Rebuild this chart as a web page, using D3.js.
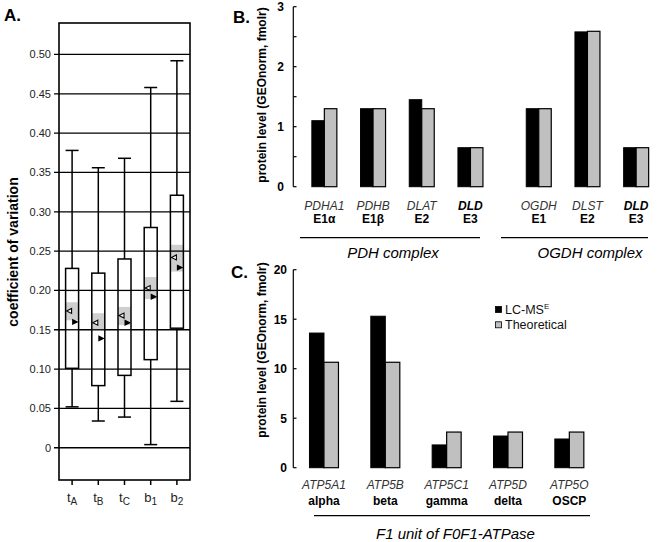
<!DOCTYPE html>
<html><head><meta charset="utf-8">
<script src="https://cdn.jsdelivr.net/npm/d3@7"></script>
<style>
body{margin:0;background:#fff;}
svg{font-family:"Liberation Sans",Arial,sans-serif;}
</style></head>
<body>
<svg id="c" width="661" height="542"></svg>
<script>
// ---- Panel A data ----
const aGroups = ["tA","tB","tC","b1","b2"];
const aLabelMain = ["t","t","t","b","b"];
const aLabelSub = ["A","B","C","1","2"];
const aWhiskerLow = [0.052,0.034,0.039,0.004,0.059];
const aQ1 = [0.101,0.079,0.092,0.112,0.152];
const aQ3 = [0.228,0.222,0.240,0.280,0.321];
const aWhiskerHigh = [0.378,0.356,0.368,0.458,0.492];
const aBandLow = [0.162,0.149,0.156,0.189,0.224];
const aBandHigh = [0.185,0.171,0.179,0.217,0.258];
const aOpen = [0.174,0.159,0.168,0.203,0.242];
const aFilled = [0.160,0.139,0.159,0.192,0.229];
const aTicks = [0,0.05,0.10,0.15,0.20,0.25,0.30,0.35,0.40,0.45,0.50];
const aTickLabels = ["0","0.05","0.10","0.15","0.20","0.25","0.30","0.35","0.40","0.45","0.50"];

// ---- Panel B data ----
const pdhGenes = ["PDHA1","PDHB","DLAT","DLD"];
const pdhSub = ["E1\u03b1","E1\u03b2","E2","E3"];
const pdhLC = [1.10,1.30,1.45,0.65];
const pdhTh = [1.30,1.30,1.30,0.65];
const ogdhGenes = ["OGDH","DLST","DLD"];
const ogdhSub = ["E1","E2","E3"];
const ogdhLC = [1.30,2.58,0.65];
const ogdhTh = [1.30,2.59,0.65];
const bTicks = [0,1,2,3];
const bMinor = [0.5,1.5,2.5];

// ---- Panel C data ----
const cGenes = ["ATP5A1","ATP5B","ATP5C1","ATP5D","ATP5O"];
const cSub = ["alpha","beta","gamma","delta","OSCP"];
const cLC = [13.6,15.3,2.3,3.2,2.9];
const cTh = [10.65,10.65,3.6,3.6,3.6];
const cTicks = [0,5,10,15,20];

const GREY = "#c0c0c0";
const svg = d3.select("#c");

// ================= Panel A =================
const ay = d3.scaleLinear().domain([-0.041,0.54]).range([480,23]);
const ax = d3.scaleBand().domain(aGroups).range([59,190]);
const A = svg.append("g");
// gridlines + ticks
A.selectAll(".grid").data(aTicks).join("line")
  .attr("x1",54).attr("x2",190)
  .attr("y1",d=>ay(d)).attr("y2",d=>ay(d))
  .attr("stroke","#000").attr("stroke-width",1.3);
A.selectAll(".tl").data(aTicks).join("text")
  .attr("x",51).attr("y",d=>ay(d)+4)
  .attr("text-anchor","end").attr("font-size",11).attr("fill","#222")
  .text((d,i)=>aTickLabels[i]);
// frame
A.append("rect").attr("x",59).attr("y",23).attr("width",131).attr("height",457)
  .attr("fill","none").attr("stroke","#000").attr("stroke-width",1.6);
// boxes
const bw = 13;
aGroups.forEach((g,i)=>{
  const cx = ax(g)+ax.bandwidth()/2;
  // whiskers
  A.append("line").attr("x1",cx).attr("x2",cx).attr("y1",ay(aWhiskerHigh[i])).attr("y2",ay(aQ3[i])).attr("stroke","#000").attr("stroke-width",1.5);
  A.append("line").attr("x1",cx).attr("x2",cx).attr("y1",ay(aQ1[i])).attr("y2",ay(aWhiskerLow[i])).attr("stroke","#000").attr("stroke-width",1.5);
  A.append("line").attr("x1",cx-bw/2).attr("x2",cx+bw/2).attr("y1",ay(aWhiskerHigh[i])).attr("y2",ay(aWhiskerHigh[i])).attr("stroke","#000").attr("stroke-width",1.5);
  A.append("line").attr("x1",cx-bw/2).attr("x2",cx+bw/2).attr("y1",ay(aWhiskerLow[i])).attr("y2",ay(aWhiskerLow[i])).attr("stroke","#000").attr("stroke-width",1.5);
  // box
  A.append("rect").attr("x",cx-bw/2).attr("y",ay(aQ3[i])).attr("width",bw).attr("height",ay(aQ1[i])-ay(aQ3[i]))
    .attr("fill","#fff").attr("stroke","none");
  // grey band
  A.append("rect").attr("x",cx-bw/2).attr("y",ay(aBandHigh[i])).attr("width",bw).attr("height",ay(aBandLow[i])-ay(aBandHigh[i]))
    .attr("fill","#cfcfcf");
  // gridlines inside box (redraw so they pass through)
  aTicks.filter(t=>t>aQ1[i]&&t<aQ3[i]).forEach(t=>{
    A.append("line").attr("x1",cx-bw/2).attr("x2",cx+bw/2).attr("y1",ay(t)).attr("y2",ay(t)).attr("stroke","#000").attr("stroke-width",1.3);
  });
  A.append("rect").attr("x",cx-bw/2).attr("y",ay(aQ3[i])).attr("width",bw).attr("height",ay(aQ1[i])-ay(aQ3[i]))
    .attr("fill","none").attr("stroke","#000").attr("stroke-width",1.5);
  // open triangle (pointing left)
  const oy = ay(aOpen[i]), ox = cx-3;
  A.append("path").attr("d",`M${ox-2.5},${oy} L${ox+2.5},${oy-2.5} L${ox+2.5},${oy+2.5} Z`)
    .attr("fill","#fff").attr("stroke","#000").attr("stroke-width",1.1);
  // filled triangle (pointing right)
  const fy = ay(aFilled[i]), fx = cx+3;
  A.append("path").attr("d",`M${fx+3.5},${fy} L${fx-3},${fy-3.2} L${fx-3},${fy+3.2} Z`)
    .attr("fill","#000");
  // x tick
  A.append("line").attr("x1",cx).attr("x2",cx).attr("y1",480).attr("y2",485).attr("stroke","#000").attr("stroke-width",1.5);
  const t = A.append("text").attr("x",cx).attr("y",502).attr("text-anchor","middle").attr("font-size",13).attr("fill","#222");
  t.append("tspan").text(aLabelMain[i]);
  t.append("tspan").attr("dy",3).attr("font-size",10).text(aLabelSub[i]);
});
A.append("text").attr("transform","translate(18,252) rotate(-90)").attr("text-anchor","middle")
  .attr("font-size",14).attr("font-weight","bold").text("coefficient of variation");
A.append("text").attr("x",4).attr("y",21).attr("font-size",17).attr("font-weight","bold").text("A.");

// ================= Panel B =================
const B = svg.append("g");
const by = d3.scaleLinear().domain([0,3]).range([186.7,6.7]);
const bxPDH = d3.scaleBand().domain(d3.range(pdhGenes.length)).range([300,494.8]);
const bxOGDH = d3.scaleBand().domain(d3.range(ogdhGenes.length)).range([514.4,660.5]);
const bBar = 12.5;
B.append("line").attr("x1",293.3).attr("x2",293.3).attr("y1",by(3)).attr("y2",by(0)).attr("stroke","#000").attr("stroke-width",1.2);
B.selectAll(".bt").data(bTicks.concat(bMinor)).join("line")
  .attr("x1",293.3).attr("x2",296.5).attr("y1",d=>by(d)).attr("y2",d=>by(d)).attr("stroke","#000").attr("stroke-width",1.2);
B.selectAll(".btl").data(bTicks).join("text")
  .attr("x",284).attr("y",d=>by(d)+4.5).attr("text-anchor","end").attr("font-size",12).attr("font-weight","bold").text(d=>d);
function drawGroup(g, scale, genes, sub, lc, th, yScale, barW, yGene, ySub){
  genes.forEach((name,i)=>{
    const cx = scale(i)+scale.bandwidth()/2;
    g.append("rect").attr("x",cx-barW).attr("y",yScale(lc[i])).attr("width",barW).attr("height",yScale(0)-yScale(lc[i]))
      .attr("fill","#000").attr("stroke","#000").attr("stroke-width",1);
    g.append("rect").attr("x",cx).attr("y",yScale(th[i])).attr("width",barW).attr("height",yScale(0)-yScale(th[i]))
      .attr("fill",GREY).attr("stroke","#000").attr("stroke-width",1.2);
    const isDLD = name==="DLD";
    g.append("text").attr("x",cx).attr("y",yGene).attr("text-anchor","middle").attr("font-size",12)
      .attr("font-style","italic").attr("font-weight",isDLD?"bold":"normal").attr("fill",isDLD?"#000":"#333").text(name);
    g.append("text").attr("x",cx).attr("y",ySub).attr("text-anchor","middle").attr("font-size",12)
      .attr("font-weight","bold").text(sub[i]);
  });
}
drawGroup(B,bxPDH,pdhGenes,pdhSub,pdhLC,pdhTh,by,bBar,210,223);
drawGroup(B,bxOGDH,ogdhGenes,ogdhSub,ogdhLC,ogdhTh,by,bBar,210,223);
B.append("line").attr("x1",300).attr("x2",480).attr("y1",237.7).attr("y2",237.7).attr("stroke","#000").attr("stroke-width",1.3);
B.append("line").attr("x1",501).attr("x2",648).attr("y1",237.7).attr("y2",237.7).attr("stroke","#000").attr("stroke-width",1.3);
B.append("text").attr("x",393).attr("y",258).attr("text-anchor","middle").attr("font-size",15).attr("font-style","italic").text("PDH complex");
B.append("text").attr("x",590).attr("y",258).attr("text-anchor","middle").attr("font-size",15).attr("font-style","italic").text("OGDH complex");
B.append("text").attr("transform","translate(266,95) rotate(-90)").attr("text-anchor","middle")
  .attr("font-size",12).attr("font-weight","bold").text("protein level (GEOnorm, fmolr)");
B.append("text").attr("x",233).attr("y",23).attr("font-size",17).attr("font-weight","bold").text("B.");

// ================= Panel C =================
const C = svg.append("g");
const cy = d3.scaleLinear().domain([0,20]).range([467.7,269.7]);
const cx = d3.scaleBand().domain(d3.range(cGenes.length)).range([293.3,600]);
C.append("line").attr("x1",293.3).attr("x2",293.3).attr("y1",cy(20)).attr("y2",cy(0)).attr("stroke","#000").attr("stroke-width",1.2);
C.selectAll(".ct").data(cTicks).join("line")
  .attr("x1",293.3).attr("x2",296.5).attr("y1",d=>cy(d)).attr("y2",d=>cy(d)).attr("stroke","#000").attr("stroke-width",1.2);
C.selectAll(".ctl").data(cTicks).join("text")
  .attr("x",287).attr("y",d=>cy(d)+4.5).attr("text-anchor","end").attr("font-size",12).attr("font-weight","bold").text(d=>d);
drawGroup(C,cx,cGenes,cSub,cLC,cTh,cy,14.5,489,505);
C.append("line").attr("x1",314).attr("x2",590).attr("y1",515.7).attr("y2",515.7).attr("stroke","#000").attr("stroke-width",1.3);
C.append("text").attr("x",455.5).attr("y",539).attr("text-anchor","middle").attr("font-size",15).attr("font-style","italic").text("F1 unit of F0F1-ATPase");
C.append("text").attr("transform","translate(266,350) rotate(-90)").attr("text-anchor","middle")
  .attr("font-size",12).attr("font-weight","bold").text("protein level (GEOnorm, fmolr)");
C.append("text").attr("x",231).attr("y",278).attr("font-size",17).attr("font-weight","bold").text("C.");
// legend
const legend = [{label:"LC-MS",sup:"E",fill:"#000"},{label:"Theoretical",sup:"",fill:GREY}];
legend.forEach((d,i)=>{
  const y0 = 306.5 + i*15.3;
  C.append("rect").attr("x",495.5).attr("y",y0).attr("width",6).attr("height",6).attr("fill",d.fill).attr("stroke","#000").attr("stroke-width",0.8);
  const t = C.append("text").attr("x",505).attr("y",y0+7.5).attr("font-size",12.5).attr("fill","#111");
  t.append("tspan").text(d.label);
  if(d.sup) t.append("tspan").attr("dy",-5).attr("font-size",8).text(d.sup);
});
</script>
</body></html>
